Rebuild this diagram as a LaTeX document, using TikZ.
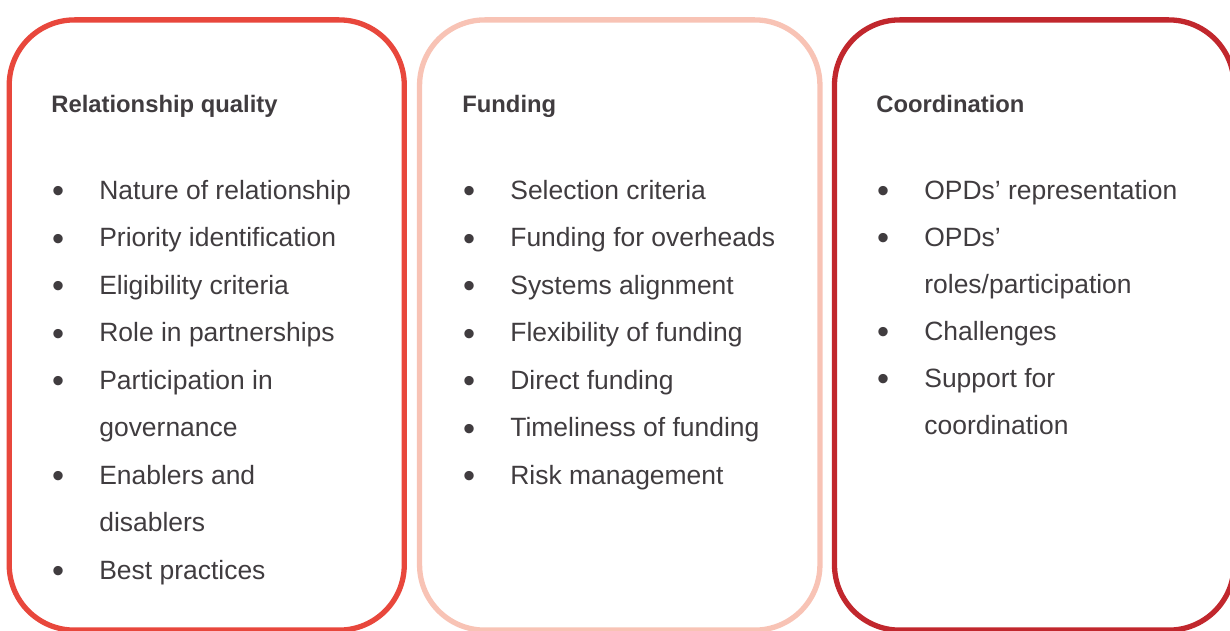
\documentclass[tikz,border=0pt]{standalone}
\usepackage{fontspec}
\setmainfont{Liberation Sans}
\usetikzlibrary{positioning}

\definecolor{relred}{HTML}{E8473C}
\definecolor{fundpink}{HTML}{F8C3B5}
\definecolor{coordred}{HTML}{C1272D}
\definecolor{ink}{HTML}{403C3F}

\tikzstyle{panel} = [rectangle, rounded corners=37pt, line width=3pt, minimum height=346pt, inner sep=0pt]
\tikzstyle{heading} = [anchor=base west, inner sep=0pt, text=ink, font=\fontsize{13.5}{16}\selectfont\bfseries]
\tikzstyle{item} = [anchor=base west, inner sep=0pt, text=ink, font=\fontsize{15}{18}\selectfont]

% bullet hung to the left of the item text
\newcommand{\bul}{\llap{\raisebox{-2pt}{\scalebox{1.3}{\textbullet}}\hspace{20pt}}}

\begin{document}
\begin{tikzpicture}[x=0.567pt, y=-0.567pt]
\useasboundingbox (0,0) rectangle (1230,630);

% Three panels
\node (relbox) [panel, draw=relred, minimum width=224pt] at (206.75,325) {};
\node (fundbox) [panel, draw=fundpink, minimum width=227pt] at (619.75,325) {};
\node (coordbox) [panel, draw=coordred, minimum width=226.5pt] at (1034.25,325) {};

% Relationship quality
\node (relhead) [heading] at (51,112) {Relationship quality};
\foreach \row/\txt in {0/Nature of relationship, 1/Priority identification, 2/Eligibility criteria,
    3/Role in partnerships, 4/Participation in, 6/Enablers and, 8/Best practices}
  \node (rel\row) [item] at (99,{199+47.5*\row}) {\bul\txt};
\node (rel5) [item] at (99,{199+47.5*5}) {governance};
\node (rel7) [item] at (99,{199+47.5*7}) {disablers};

% Funding
\node (fundhead) [heading] at (462,112) {Funding};
\foreach \row/\txt in {0/Selection criteria, 1/Funding for overheads, 2/Systems alignment,
    3/Flexibility of funding, 4/Direct funding, 5/Timeliness of funding, 6/Risk management}
  \node (fund\row) [item] at (510,{199+47.5*\row}) {\bul\txt};

% Coordination
\node (coordhead) [heading] at (876,112) {Coordination};
\foreach \row/\txt in {0/OPDs’ representation, 1/OPDs’, 3/Challenges, 4/Support for}
  \node (coord\row) [item] at (924,{199+47*\row}) {\bul\txt};
\node (coord2) [item] at (924,{199+47*2}) {roles/participation};
\node (coord5) [item] at (924,{199+47*5}) {coordination};

\end{tikzpicture}
\end{document}
